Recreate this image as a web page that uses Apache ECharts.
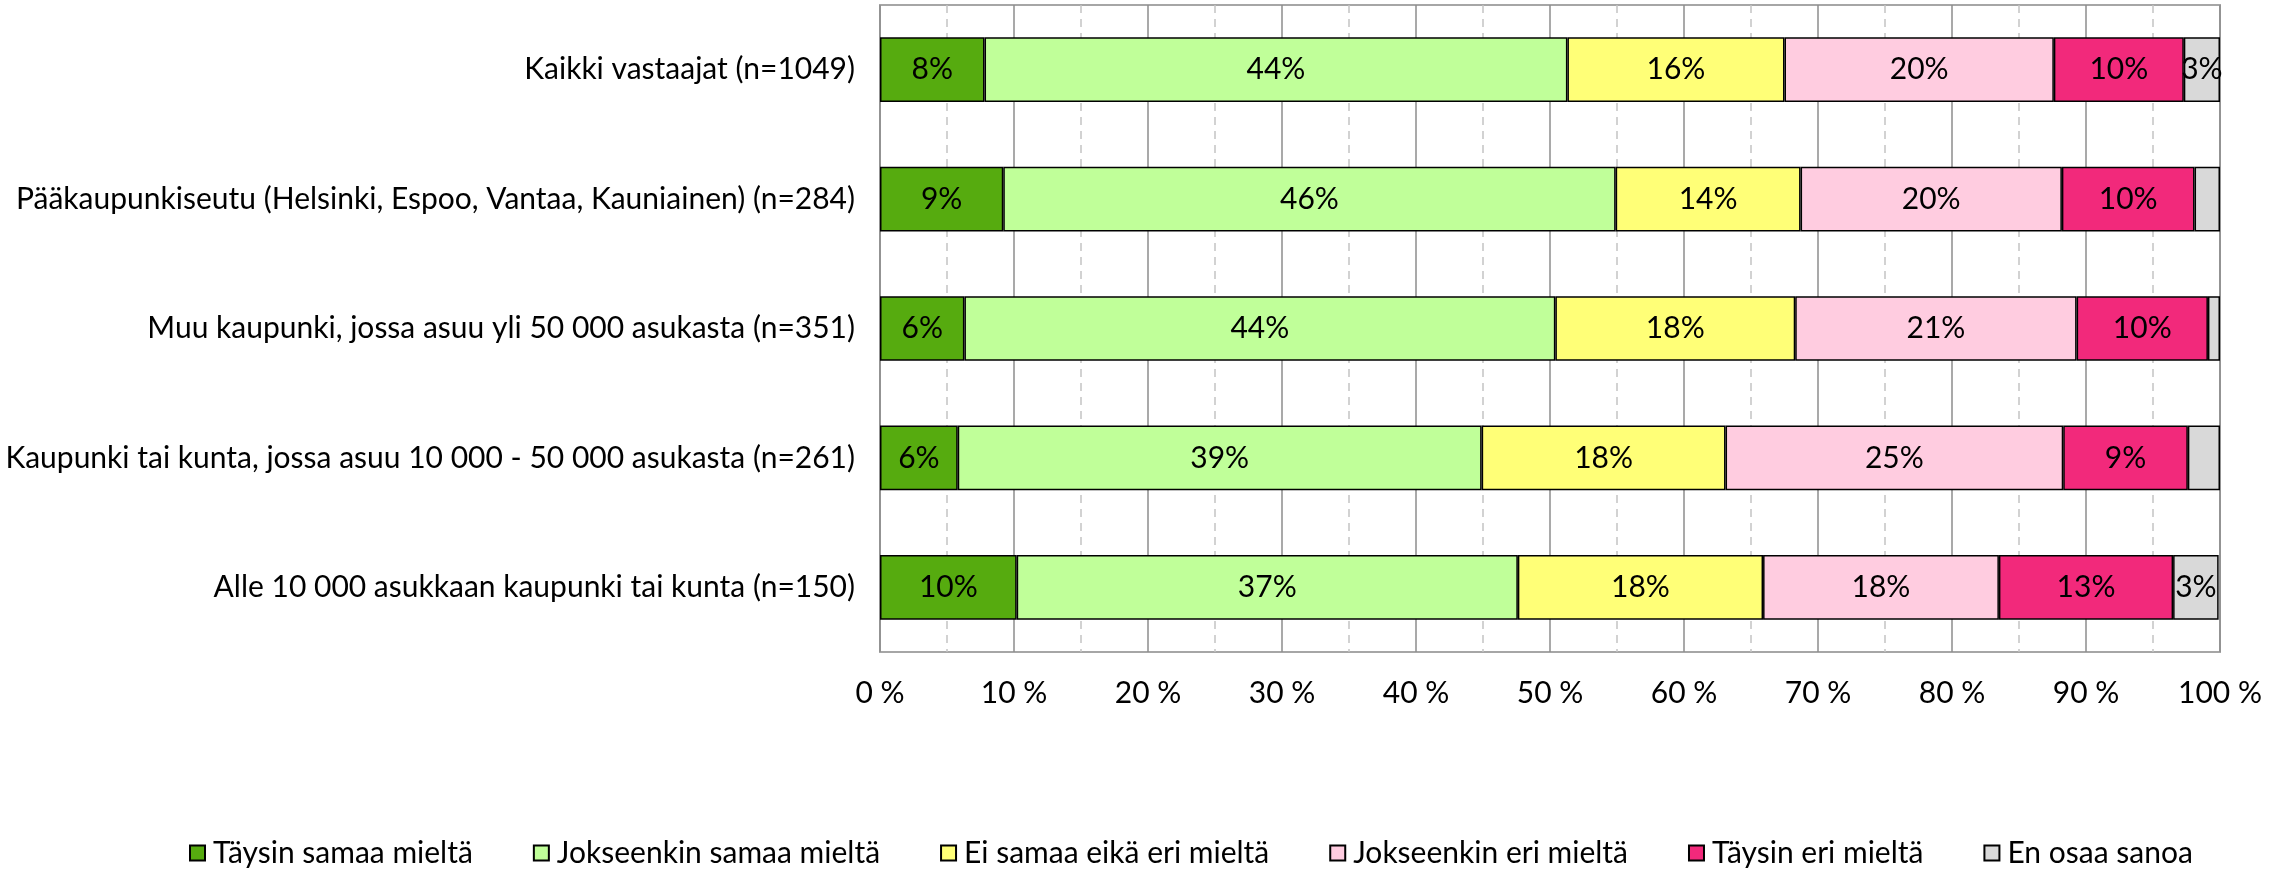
<!DOCTYPE html>
<html>
<head>
<meta charset="utf-8">
<script src="https://cdn.jsdelivr.net/npm/echarts@6/dist/echarts.min.js"></script>
<style>
html,body{margin:0;padding:0;background:#fff;}
#chart{width:2290px;height:875px;}
</style>
</head>
<body>
<div id="chart"></div>
<script>
const categories = [
  'Kaikki vastaajat (n=1049)',
  'Pääkaupunkiseutu (Helsinki, Espoo, Vantaa, Kauniainen) (n=284)',
  'Muu kaupunki, jossa asuu yli 50 000 asukasta (n=351)',
  'Kaupunki tai kunta, jossa asuu 10 000 - 50 000 asukasta (n=261)',
  'Alle 10 000 asukkaan kaupunki tai kunta (n=150)'
];
const seriesNames = [
  'Täysin samaa mieltä',
  'Jokseenkin samaa mieltä',
  'Ei samaa eikä eri mieltä',
  'Jokseenkin eri mieltä',
  'Täysin eri mieltä',
  'En osaa sanoa'
];
const taysinSamaa     = [7.8, 9.2, 6.3, 5.8, 10.2];
const jokseenkinSamaa = [43.5, 45.7, 44.1, 39.1, 37.4];
const eiSamaaEikaEri  = [16.2, 13.8, 17.9, 18.2, 18.3];
const jokseenkinEri   = [20.1, 19.5, 21.0, 25.2, 17.6];
const taysinEri       = [9.7, 9.9, 9.8, 9.3, 13.0];
const enOsaa          = [2.7, 1.9, 0.9, 2.4, 3.4];
const tickLabels = ['0 %','10 %','20 %','30 %','40 %','50 %','60 %','70 %','80 %','90 %','100 %'];
const colors = ['#56AB0F', '#C0FF99', '#FFFF77', '#FFCCE0', '#F2297B', '#D9D9D9'];

const values = [taysinSamaa, jokseenkinSamaa, eiSamaaEikaEri, jokseenkinEri, taysinEri, enOsaa];
const FONT = 'Lato, "Open Sans", sans-serif';

const chart = echarts.init(document.getElementById('chart'), null, {renderer: 'canvas'});
chart.setOption({
  animation: false,
  backgroundColor: '#ffffff',
  textStyle: {fontFamily: FONT, color: '#000'},
  grid: {
    left: 880, right: 70, top: 5, bottom: 223,
    show: true, borderColor: '#a6a6a6', borderWidth: 2, backgroundColor: 'transparent'
  },
  legend: {
    left: 184, top: 833,
    icon: 'rect', itemWidth: 15, itemHeight: 15, itemGap: 60,
    textStyle: {fontFamily: FONT, fontSize: 30, color: '#000', padding: [0,0,0,3]},
    data: seriesNames
  },
  xAxis: {
    type: 'value', min: 0, max: 100, interval: 10,
    axisLine: {show: false}, axisTick: {show: false},
    axisLabel: {
      fontFamily: FONT, fontSize: 30, color: '#000', margin: 26,
      formatter: v => tickLabels[Math.round(v / 10)]
    },
    splitLine: {show: true, lineStyle: {color: '#8c8c8c', width: 1.5}},
    minorTick: {show: false, splitNumber: 2},
    minorSplitLine: {show: true, lineStyle: {color: '#c4c4c4', width: 1.5, type: [8, 6]}}
  },
  yAxis: {
    type: 'category', inverse: true, data: categories,
    axisLine: {show: false}, axisTick: {show: false},
    axisLabel: {fontFamily: FONT, fontSize: 30, color: '#000', margin: 25}
  },
  series: seriesNames.map((name, i) => ({
    name, type: 'bar', stack: 'total', barWidth: '50%',
    data: values[i],
    itemStyle: {color: colors[i], borderColor: '#000', borderWidth: 1.5},
    label: {
      show: true, position: 'inside', fontFamily: FONT, fontSize: 30, color: '#000',
      formatter: p => p.value >= 2.5 ? Math.round(p.value) + '%' : ''
    }
  }))
});
</script>
</body>
</html>
